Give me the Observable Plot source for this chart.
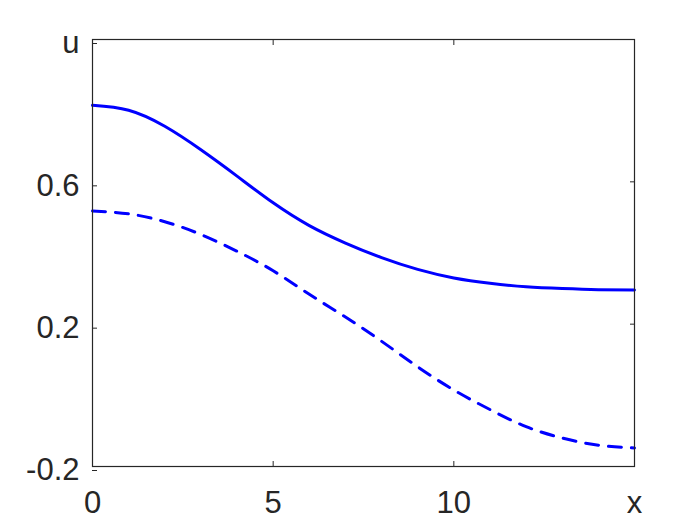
<!DOCTYPE html>
<html>
<head>
<meta charset="utf-8">
<script src="https://cdn.jsdelivr.net/npm/d3@7"></script>
<script src="https://cdn.jsdelivr.net/npm/@observablehq/plot@0.6"></script>
<style>
  html, body { margin: 0; padding: 0; background: #ffffff; }
</style>
</head>
<body>
<div id="chart"></div>
<script>
// Data
const xs      = [0, 1, 2, 3, 4, 5, 6, 7, 8, 9, 10, 11, 12, 13, 14, 15];
const solidU  = [0.815, 0.801, 0.756, 0.690, 0.616, 0.541, 0.477, 0.428, 0.387, 0.354, 0.330, 0.315, 0.305, 0.300, 0.297, 0.296];
const dashedU = [0.518, 0.510, 0.488, 0.452, 0.405, 0.350, 0.284, 0.220, 0.152, 0.080, 0.015, -0.040, -0.088, -0.120, -0.140, -0.148];

const xTicks = [0, 5, 10, 15];
const xTickLabels = ["0", "5", "10", "x"];
const yTicks = [-0.2, 0.2, 0.6, 1.0];
const yTickLabels = ["-0.2", "0.2", "0.6", "u"];

const solid = xs.map((x, i) => ({x, u: solidU[i]}));
const dashed = xs.map((x, i) => ({x, u: dashedU[i]}));

const ink = "#262626";
const blue = "#0000ff";
const font = "'Liberation Sans', Arial, Helvetica, sans-serif";

const chart = Plot.plot({
  width: 700,
  height: 525,
  marginLeft: 92,
  marginRight: 66,
  marginTop: 39,
  marginBottom: 59,
  style: {
    fontFamily: font,
    fontSize: "31px",
    color: ink,
    background: "#ffffff"
  },
  x: {domain: [0, 15], label: null},
  y: {domain: [-0.2, 1.0], label: null},
  marks: [
    Plot.line(dashed, {x: "x", y: "u", stroke: blue, strokeWidth: 3, strokeDasharray: "13,10", curve: "natural"}),
    Plot.line(solid, {x: "x", y: "u", stroke: blue, strokeWidth: 3, curve: "natural"}),
    // bottom & left axes: inward ticks + labels
    Plot.axisX({anchor: "bottom", ticks: xTicks, tickSize: -5, tickPadding: 29, stroke: ink, fill: ink,
                fontSize: 31, fontFamily: font,
                tickFormat: (d) => xTickLabels[xTicks.indexOf(d)], label: null}),
    Plot.axisY({anchor: "left", ticks: yTicks, tickSize: -5, tickPadding: 18, dy: 4, stroke: ink, fill: ink,
                fontSize: 31, fontFamily: font,
                tickFormat: (d) => yTickLabels[yTicks.findIndex(t => Math.abs(t - d) < 1e-9)], label: null}),
    // mirrored ticks on top & right
    Plot.axisX({anchor: "top", ticks: xTicks, tickSize: -5, stroke: ink, tickFormat: () => "", label: null}),
    Plot.axisY({anchor: "right", ticks: yTicks, tickSize: -5, stroke: ink, tickFormat: () => "", label: null}),
    Plot.frame({stroke: ink, strokeWidth: 1.2})
  ]
});

document.getElementById("chart").appendChild(chart);
</script>
</body>
</html>
